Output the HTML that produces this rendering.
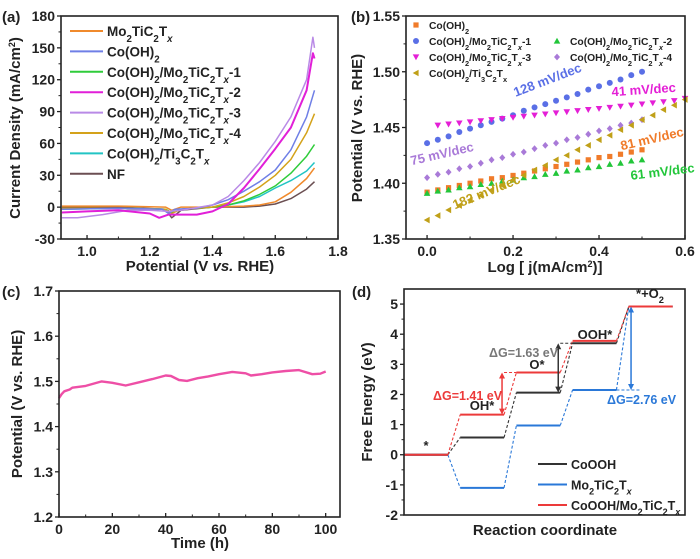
<!DOCTYPE html>
<html><head><meta charset="utf-8"><style>
html,body{margin:0;padding:0;background:#fff;}
svg{display:block;font-family:"Liberation Sans",Arial,sans-serif;font-weight:bold;}
</style></head><body>
<svg id="fig" width="700" height="559" viewBox="0 0 700 559" xmlns="http://www.w3.org/2000/svg">
<g id="pa"></g>
<g id="pb"></g>
<g id="pc"></g>
<g id="pd"></g>
</svg>
<script>
// ---------- Panel (a) data ----------
const aNames = ["Mo2TiC2Tx","Co(OH)2","-1","-2","-3","-4","Ti3C2Tx","NF"];
const aColors = ["#f08a2c","#6f7fe6","#2fcc3a","#e11fd8","#b98ae6","#d4a21a","#22c4c4","#6b4f52"];
const aV_MoTi = [0.92,1.1,1.25,1.27,1.3,1.4,1.5,1.55,1.6,1.65,1.7,1.725];
const aJ_MoTi = [1,1,0,-3,0,0,1,2,5,14,27,37];
const aV_Co = [0.92,1.1,1.24,1.26,1.28,1.35,1.4,1.45,1.5,1.55,1.6,1.65,1.7,1.725];
const aJ_Co = [-2,-1,-2,-6,-2,-1,2,7,15,24,35,54,85,110];
const aV_1 = [0.92,1.1,1.25,1.27,1.3,1.4,1.45,1.5,1.55,1.6,1.65,1.7,1.725];
const aJ_1 = [-1,-1,-2,-5,-2,0,2,6,12,20,32,48,59];
const aV_2 = [0.92,1.0,1.1,1.2,1.23,1.26,1.3,1.35,1.4,1.45,1.5,1.55,1.6,1.65,1.7,1.72,1.725];
const aJ_2 = [-5,-4,-3,-6,-10,-7,-7,-7,-4,3,18,36,55,75,110,145,140];
const aV_3 = [0.92,0.97,1.05,1.13,1.2,1.26,1.3,1.4,1.45,1.5,1.55,1.6,1.65,1.7,1.72,1.725];
const aJ_3 = [-10,-10,-7,-3,-3,-4,-3,2,10,25,42,62,85,120,160,150];
const aV_4 = [0.92,1.1,1.25,1.27,1.3,1.4,1.45,1.5,1.55,1.6,1.65,1.7,1.725];
const aJ_4 = [-1,-1,-2,-6,-2,0,4,10,19,30,45,70,88];
const aV_Ti = [0.92,1.1,1.25,1.27,1.3,1.4,1.45,1.5,1.55,1.6,1.65,1.7,1.725];
const aJ_Ti = [-2,-1,-2,-5,-2,0,2,5,10,18,25,34,42];
const aV_NF = [0.92,1.1,1.25,1.27,1.3,1.4,1.5,1.55,1.6,1.65,1.7,1.725];
const aJ_NF = [0,0,-2,-10,-3,0,0,1,3,8,17,24];
const aXTicks = [1.0,1.2,1.4,1.6,1.8];
const aYTicks = [-30,0,30,60,90,120,150,180];

// ---------- Panel (b) data ----------
const bX50 = [0,0.025,0.05,0.075,0.1,0.125,0.15,0.175,0.2,0.225,0.25,0.275,0.3,0.325,0.35,0.375,0.4,0.425,0.45,0.475,0.5];
const bX60 = [0,0.025,0.05,0.075,0.1,0.125,0.15,0.175,0.2,0.225,0.25,0.275,0.3,0.325,0.35,0.375,0.4,0.425,0.45,0.475,0.5,0.525,0.55,0.575,0.6];
const bCo = [1.392,1.394,1.396,1.398,1.400,1.402,1.404,1.405,1.407,1.409,1.411,1.413,1.415,1.417,1.419,1.421,1.423,1.424,1.426,1.428,1.430];
const b1 = [1.436,1.439,1.442,1.446,1.449,1.452,1.455,1.458,1.461,1.465,1.468,1.471,1.474,1.477,1.480,1.484,1.487,1.490,1.493,1.497,1.500];
const b2 = [1.391,1.393,1.394,1.396,1.397,1.399,1.400,1.402,1.403,1.405,1.406,1.408,1.409,1.411,1.412,1.414,1.415,1.417,1.418,1.420,1.421];
const b3 = [1.452,1.453,1.454,1.455,1.456,1.457,1.458,1.459,1.460,1.461,1.462,1.463,1.464,1.465,1.466,1.467,1.468,1.469,1.470,1.471,1.472,1.473,1.474,1.476];
const b4 = [1.405,1.408,1.410,1.413,1.415,1.418,1.421,1.423,1.426,1.428,1.431,1.434,1.436,1.439,1.441,1.444,1.447,1.449,1.452,1.454,1.457];
const bTi = [1.367,1.371,1.376,1.380,1.385,1.389,1.394,1.398,1.403,1.407,1.412,1.416,1.421,1.425,1.430,1.434,1.439,1.443,1.448,1.452,1.457,1.461,1.466,1.470,1.475];
const bXTicks = [0.0,0.2,0.4,0.6];
const bYTicks = [1.35,1.40,1.45,1.50,1.55];

// ---------- Panel (c) data ----------
const cT = [0,1,2,4,5,10,16,20,25,30,35,40,42,45,48,52,56,60,65,70,72,76,80,85,90,95,98,100];
const cV = [1.463,1.472,1.478,1.482,1.486,1.490,1.500,1.497,1.491,1.498,1.505,1.513,1.512,1.503,1.501,1.507,1.511,1.516,1.521,1.518,1.513,1.516,1.520,1.523,1.525,1.516,1.517,1.522];
const cXTicks = [0,20,40,60,80,100];
const cYTicks = [1.2,1.3,1.4,1.5,1.6,1.7];

// ---------- Panel (d) data ----------
const dSteps = ["*","OH*","O*","OOH*","*+O2"];
const dCoOOH = [0,0.57,2.06,3.70,4.92];
const dMo = [0,-1.10,0.97,2.15,4.92];
const dHet = [0,1.33,2.73,3.78,4.92];
const dYTicks = [-2,-1,0,1,2,3,4,5];

const NS="http://www.w3.org/2000/svg";
function mk(parent,tag,attrs,text){const e=document.createElementNS(NS,tag);for(const k in attrs)e.setAttribute(k,attrs[k]);if(text!==undefined)e.textContent=text;parent.appendChild(e);return e;}
function lin(d0,d1,r0,r1){return v=>r0+(v-d0)/(d1-d0)*(r1-r0);}

function frame(g,L,T,R,B){
  const f=mk(g,'rect',{x:L,y:T,width:R-L,height:B-T,fill:'none',stroke:'#222','stroke-width':1.6});
  
  
}
function yTicks(g,ticks,sy,L,fmt,minor){
  ticks.forEach((t,i)=>{
    const y=sy(t);
    const l=mk(g,'line',{x1:L-4,x2:L,y1:y,y2:y,stroke:'#222','stroke-width':1.3});
    
    
    const tx=mk(g,'text',{x:L-6,y:y+5,'text-anchor':'end','font-size':14,fill:'#222'},fmt(t));
    
    
    if(minor&&i<ticks.length-1){const m=(sy(t)+sy(ticks[i+1]))/2;mk(g,'line',{x1:L-2.5,x2:L,y1:m,y2:m,stroke:'#222','stroke-width':1});}
  });
}
function xTicks(g,ticks,sx,B,fmt,minor){
  ticks.forEach((t,i)=>{
    const x=sx(t);
    const l=mk(g,'line',{x1:x,x2:x,y1:B,y2:B-4,stroke:'#222','stroke-width':1.3});
    
    
    const tx=mk(g,'text',{x:x,y:B+17,'text-anchor':'middle','font-size':14,fill:'#222'},fmt(t));
    
    
    if(minor&&i<ticks.length-1){const m=(sx(t)+sx(ticks[i+1]))/2;mk(g,'line',{x1:m,x2:m,y1:B,y2:B-2.5,stroke:'#222','stroke-width':1});}
  });
}
function title(g,x,y,txt,name,rot,html){
  const t=mk(g,'text',{x:x,y:y,'text-anchor':'middle','font-size':15,fill:'#222',transform:rot?`rotate(-90 ${x} ${y})`:''});
  t.innerHTML=html||txt;
  
  
  return t;
}
function plabel(g,x,y,s){const t=mk(g,'text',{x:x,y:y,'font-size':15,fill:'#222'},s);
  
  }
const sub=s=>`<tspan baseline-shift="sub" font-size="0.72em">${s}</tspan>`;
const M2=`Mo${sub(2)}TiC${sub(2)}T${sub('<tspan font-style="italic">x</tspan>')}`;
const CO=`Co(OH)${sub(2)}`;

// ===== Panel A =====
(function(){
  const g=document.getElementById('pa');
  const L=61,R=338,T=16,B=239;
  const sx=lin(0.917,1.8,L,R), sy=lin(-30,180,B,T);
  const series=[[aV_MoTi,aJ_MoTi],[aV_Co,aJ_Co],[aV_1,aJ_1],[aV_2,aJ_2],[aV_3,aJ_3],[aV_4,aJ_4],[aV_Ti,aJ_Ti],[aV_NF,aJ_NF]];
  const order=[7,0,6,2,5,1,4,3];
  order.forEach(i=>{
    const [xs,ys]=series[i];
    const d=xs.map((v,k)=>(k?'L':'M')+sx(v).toFixed(1)+','+sy(ys[k]).toFixed(1)).join(' ');
    const p=mk(g,'path',{d:d,fill:'none',stroke:aColors[i],'stroke-width':i==3?2:1.5,'stroke-linejoin':'round'});
    
    
  });
  frame(g,L,T,R,B);
  yTicks(g,aYTicks,sy,L,v=>String(v),true);
  xTicks(g,aXTicks,sx,B,v=>v.toFixed(1),true);
  const labs=[M2,CO,CO+'/'+M2+'-1',CO+'/'+M2+'-2',CO+'/'+M2+'-3',CO+'/'+M2+'-4',`${CO}/Ti${sub(3)}C${sub(2)}T${sub('<tspan font-style="italic">x</tspan>')}`,'NF'];
  labs.forEach((h,i)=>{
    const y=31+i*20.4;
    const l=mk(g,'line',{x1:70,x2:103,y1:y,y2:y,stroke:aColors[i],'stroke-width':2});
    
    
    const t=mk(g,'text',{x:107,y:y+5,'font-size':13.5,fill:'#222'});t.innerHTML=h;
    
    
  });
  title(g,20,128,'','y-axis-title',true,'Current Density (mA/cm<tspan baseline-shift="super" font-size="9">2</tspan>)');
  title(g,200,271,'','x-axis-title',false,'Potential (V <tspan font-style="italic">vs.</tspan> RHE)');
  plabel(g,2,22,'(a)');
})();

// ===== Panel B =====
(function(){
  const g=document.getElementById('pb');
  const L=406,R=685,T=16,B=239;
  const sx=lin(-0.049,0.6,L,R), sy=lin(1.35,1.55,B,T);
  const cols={co:'#f07b2a',s1:'#5a6fe6',s2:'#22c63a',s3:'#e41fd6',s4:'#a97ad8',ti:'#c0a018'};
  function marker(shape,x,y,c){
    let e;
    if(shape=='sq')e=mk(g,'rect',{x:x-2.6,y:y-2.6,width:5.2,height:5.2,fill:c});
    else if(shape=='ci')e=mk(g,'circle',{cx:x,cy:y,r:3,fill:c});
    else if(shape=='up')e=mk(g,'polygon',{points:`${x},${y-3.3} ${x+3.3},${y+2.6} ${x-3.3},${y+2.6}`,fill:c});
    else if(shape=='dn')e=mk(g,'polygon',{points:`${x},${y+3.3} ${x+3.3},${y-2.6} ${x-3.3},${y-2.6}`,fill:c});
    else if(shape=='di')e=mk(g,'polygon',{points:`${x},${y-3.4} ${x+3},${y} ${x},${y+3.4} ${x-3},${y}`,fill:c});
    else e=mk(g,'polygon',{points:`${x-3.3},${y} ${x+2.6},${y-3.3} ${x+2.6},${y+3.3}`,fill:c});
    return e;
  }
  const S=[['co',bX50,bCo,'sq'],['s1',bX50,b1,'ci'],['s2',bX50,b2,'up'],['s3',bX60.slice(1),b3,'dn'],['s4',bX50,b4,'di'],['ti',bX60,bTi,'lt']];
  S.forEach(([k,xs,ys,sh])=>{
    ys.forEach((v,i)=>{
      const m=marker(sh,sx(xs[i]),sy(v),cols[k]);
      
      
    });
  });
  frame(g,L,T,R,B);
  yTicks(g,bYTicks,sy,L,v=>v.toFixed(2),true);
  xTicks(g,bXTicks,sx,B,v=>v.toFixed(1),true);
  const leg=[[416,25,'co','sq',CO],[416,41,'s1','ci',CO+'/'+M2+'-1'],[557,41,'s2','up',CO+'/'+M2+'-2'],[416,57,'s3','dn',CO+'/'+M2+'-3'],[557,57,'s4','di',CO+'/'+M2+'-4'],[416,73,'ti','lt',`${CO}/Ti${sub(3)}C${sub(2)}T${sub('x')}`]];
  leg.forEach(([x,y,k,sh,h])=>{
    const m=marker(sh,x,y,cols[k]);
    
    
    const t=mk(g,'text',{x:x+13,y:y+4,'font-size':10.3,fill:'#222'});t.innerHTML=h;
    
    
  });
  const notes=[[549,84,-21,'#5a6fe6','128 mV/dec'],[644,94,-4,'#e41fd6','41 mV/dec'],[443,158,-13,'#a97ad8','75 mV/dec'],[653,143,-13,'#f07b2a','81 mV/dec'],[663,176,-7,'#22c63a','61 mV/dec'],[488,196,-22,'#c0a018','182 mV/dec']];
  notes.forEach(([x,y,r,c,s])=>{
    const t=mk(g,'text',{x:x,y:y,'text-anchor':'middle','font-size':13,fill:c,transform:`rotate(${r} ${x} ${y})`},s);
    
    
  });
  title(g,362,128,'Potential (V vs. RHE)','y-axis-title',true);
  title(g,545,272,'','x-axis-title',false,'Log [ j(mA/cm<tspan baseline-shift="super" font-size="9">2</tspan>)]');
  plabel(g,351,22,'(b)');
})();

// ===== Panel C =====
(function(){
  const g=document.getElementById('pc');
  const L=59,R=340,T=291,B=517;
  const sx=lin(0,105,L,R-1), sy=lin(1.2,1.7,B,T);
  const d=cT.map((t,i)=>(i?'L':'M')+sx(t).toFixed(1)+','+sy(cV[i]).toFixed(1)).join(' ');
  const p=mk(g,'path',{d:d,fill:'none',stroke:'#ee4fa6','stroke-width':2.4,'stroke-linejoin':'round'});
  
  
  frame(g,L,T,R,B);
  yTicks(g,cYTicks,sy,L,v=>v.toFixed(1),true);
  xTicks(g,cXTicks,sx,B,v=>String(v),true);
  title(g,22,404,'Potential (V vs. RHE)','y-axis-title',true);
  title(g,200,548,'Time (h)','x-axis-title',false);
  plabel(g,2,297,'(c)');
})();

// ===== Panel D =====
(function(){
  const g=document.getElementById('pd');
  const L=404,R=685,T=289,B=515;
  const sx=lin(0,5,L,R), sy=lin(-2,5.5,B,T);
  const W=0.78;
  function path(vals,c,name){
    vals.forEach((v,i)=>{
      const l=mk(g,'line',{x1:sx(i),x2:sx(i+W),y1:sy(v),y2:sy(v),stroke:c,'stroke-width':2});
      
      
      if(i<vals.length-1){
        const dl=mk(g,'line',{x1:sx(i+W),x2:sx(i+1),y1:sy(v),y2:sy(vals[i+1]),stroke:c,'stroke-width':1.1,'stroke-dasharray':'3,2'});
        
        
      }
    });
  }
  path(dMo,'#2a78d8','mo2tic2tx');
  path(dCoOOH,'#333','cooh');
  path(dHet,'#ec3a3a','cooh-mo2tic2tx');
  mk(g,'line',{x1:sx(1+W),x2:sx(2),y1:sy(dHet[2]),y2:sy(dHet[2]),stroke:'#ec3a3a','stroke-width':1,'stroke-dasharray':'3,2'});
  mk(g,'line',{x1:sx(2+W),x2:sx(3),y1:sy(dCoOOH[3]),y2:sy(dCoOOH[3]),stroke:'#333','stroke-width':1,'stroke-dasharray':'3,2'});
  mk(g,'line',{x1:sx(3+W),x2:sx(4.2),y1:sy(dMo[3]),y2:sy(dMo[3]),stroke:'#2a78d8','stroke-width':1,'stroke-dasharray':'3,2'});
  function arrow(x,y1,y2,c,name){
    const a=mk(g,'line',{x1:x,x2:x,y1:y1+4,y2:y2-4,stroke:c,'stroke-width':1.5});
    
    
    mk(g,'polygon',{points:`${x},${y1} ${x-3},${y1+6} ${x+3},${y1+6}`,fill:c});
    mk(g,'polygon',{points:`${x},${y2} ${x-3},${y2-6} ${x+3},${y2-6}`,fill:c});
  }
  arrow(sx(1+W)-2,sy(dHet[2]),sy(dHet[1]),'#ec3a3a','delta-g-arrow-red');
  arrow(sx(2+W)-2,sy(dCoOOH[3]),sy(dCoOOH[2]),'#333','delta-g-arrow-gray');
  arrow(sx(4.04),sy(dHet[4]),sy(dMo[3]),'#2a78d8','delta-g-arrow-blue');
  const labs=[[426,450,'*','#222'],[482,410,'OH*','#222'],[537,369,'O*','#222'],[595,339,'OOH*','#222']];
  labs.forEach(([x,y,s,c])=>{const t=mk(g,'text',{x:x,y:y,'text-anchor':'middle','font-size':13,fill:c},s);
    
    });
  const o2=mk(g,'text',{x:650,y:298,'text-anchor':'middle','font-size':13,fill:'#222'});o2.innerHTML='*+O'+sub(2);
  
  
  const dg=[[433,400,'#ec3a3a','ΔG=1.41 eV'],[489,357,'#777','ΔG=1.63 eV'],[607,404,'#2a78d8','ΔG=2.76 eV']];
  dg.forEach(([x,y,c,s])=>{const t=mk(g,'text',{x:x,y:y,'font-size':12.5,fill:c},s);
    
    });
  frame(g,L,T,R,B);
  yTicks(g,dYTicks,sy,L,v=>String(v),true);
  const leg=[['#333','CoOOH'],['#2a78d8',M2],['#ec3a3a','CoOOH/'+M2]];
  leg.forEach(([c,h],i)=>{
    const y=464+i*20.5;
    const l=mk(g,'line',{x1:538,x2:567,y1:y,y2:y,stroke:c,'stroke-width':2});
    
    
    const t=mk(g,'text',{x:571,y:y+5,'font-size':12.5,fill:'#222'});t.innerHTML=h;
    
    
  });
  title(g,372,402,'Free Energy (eV)','y-axis-title',true);
  title(g,545,535,'Reaction coordinate','x-axis-title',false);
  plabel(g,352,297,'(d)');
})();
</script>
</body></html>
